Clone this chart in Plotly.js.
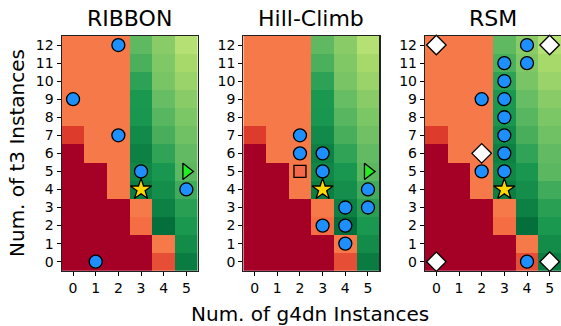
<!DOCTYPE html>
<html><head><meta charset="utf-8">
<script src="https://cdn.plot.ly/plotly-3.0.1.min.js"></script>
<style>body{margin:0;padding:0;background:#fff}#chart{width:561px;height:326px}</style>
</head><body><div id="chart"></div>
<script>
const g4dn = [0,1,2,3,4,5];
const t3 = [0,1,2,3,4,5,6,7,8,9,10,11,12];
// normalised score per cell, rows = t3 count (0..12), cols = g4dn count (0..5)
const score = [
  [0.00,0.00,0.00,0.00,0.15,0.96],
  [0.00,0.00,0.00,0.00,0.22,0.925],
  [0.00,0.00,0.00,0.20,0.985,0.90],
  [0.00,0.00,0.00,0.22,0.95,0.88],
  [0.00,0.00,0.22,0.955,0.92,0.85],
  [0.00,0.00,0.22,0.935,0.905,0.815],
  [0.00,0.22,0.22,0.95,0.87,0.805],
  [0.12,0.22,0.22,0.93,0.84,0.785],
  [0.22,0.22,0.22,0.905,0.82,0.765],
  [0.22,0.22,0.22,0.90,0.80,0.745],
  [0.22,0.22,0.22,0.875,0.77,0.72],
  [0.22,0.22,0.22,0.835,0.76,0.70],
  [0.22,0.22,0.22,0.81,0.745,0.67]
];
const panelTitles = ["RIBBON","Hill-Climb","RSM"];
// explored points per method
const ribbonX = [2,0,2,3,5,1], ribbonY = [12,9,7,5,4,0];
const hillX = [2,2,3,3,4,4,3,4,5,5], hillY = [7,6,6,5,3,2,2,1,4,3];
const hillStartX = [2], hillStartY = [5];
const rsmX = [4,3,4,3,2,3,3,3,3,2,3,4], rsmY = [12,11,11,10,9,9,8,7,6,5,5,0];
const rsmDesignX = [0,5,2,0,5], rsmDesignY = [12,12,6,0,0];
const optX = [3], optY = [4];
const triX = [5], triY = [5];

const RdYlGn = [[0,'#a50026'],[0.1,'#d73027'],[0.2,'#f46d43'],[0.3,'#fdae61'],[0.4,'#fee08b'],[0.5,'#ffffbf'],[0.6,'#d9ef8b'],[0.7,'#a6d96a'],[0.8,'#66bd63'],[0.9,'#1a9850'],[1,'#006837']];

const W = 561, H = 326;
const panelLeft = [61.7, 243.3, 425.0], panelW = 136.0;
const plotTop = 36.0, plotBottom = 270.7;
const traces = [];
const layout = {width:W,height:H,margin:{l:0,r:0,t:0,b:0},paper_bgcolor:'#fff',plot_bgcolor:'#fff',showlegend:false,annotations:[],
  font:{family:'DejaVu Sans',color:'#000'}};
const mline = {color:'#000',width:1.3};
function scat(ax, xs, ys, sym, size, fill){
  return {type:'scatter',mode:'markers',x:xs,y:ys,xaxis:'x'+ax,yaxis:'y'+ax,hoverinfo:'skip',cliponaxis:false,
    marker:{symbol:sym,size:size,color:fill,line:mline}};
}
for (let p=0;p<3;p++){
  const ax = p===0?'':String(p+1);
  traces.push({type:'heatmap',x:g4dn,y:t3,z:score,colorscale:RdYlGn,zmin:0,zmax:1,showscale:false,xaxis:'x'+ax,yaxis:'y'+ax,hoverinfo:'skip'});
  const xa = {domain:[panelLeft[p]/W, Math.min(1,(panelLeft[p]+panelW)/W)],range:[-0.5,5.5],tickvals:g4dn,ticktext:g4dn.map(String),ticks:'outside',ticklen:4,tickwidth:1,tickcolor:'#000',
    showline:true,mirror:true,linecolor:'#222',linewidth:1.2,showgrid:false,zeroline:false,tickfont:{size:14,family:'DejaVu Sans',color:'#000'},anchor:'y'+ax,fixedrange:true};
  const ya = {domain:[(H-plotBottom)/H,(H-plotTop)/H],range:[-0.5,12.5],tickvals:t3,ticktext:t3.map(String),ticks:'outside',ticklen:4,tickwidth:1,tickcolor:'#000',
    showline:true,mirror:true,linecolor:'#222',linewidth:1.2,showgrid:false,zeroline:false,tickfont:{size:14,family:'DejaVu Sans',color:'#000'},anchor:'x'+ax,fixedrange:true};
  layout['xaxis'+ax]=xa; layout['yaxis'+ax]=ya;
  layout.annotations.push({text:panelTitles[p],xref:'paper',yref:'paper',x:(panelLeft[p]+panelW/2)/W,y:(H-18)/H,xanchor:'center',yanchor:'middle',showarrow:false,font:{size:22,family:'DejaVu Sans',color:'#000'}});
}
traces.push(scat('', ribbonX, ribbonY, 'circle', 13, '#1e8fff'));
traces.push(scat('', optX, optY, 'star', 16, '#ffd700'));
traces.push(scat('', triX, triY, 'triangle-right', 14, '#22ee22'));
traces.push(scat('2', hillX, hillY, 'circle', 13, '#1e8fff'));
traces.push(scat('2', hillStartX, hillStartY, 'square', 12, '#f4694c'));
traces.push(scat('2', optX, optY, 'star', 16, '#ffd700'));
traces.push(scat('2', triX, triY, 'triangle-right', 14, '#22ee22'));
traces.push(scat('3', rsmX, rsmY, 'circle', 13, '#1e8fff'));
traces.push(scat('3', rsmDesignX, rsmDesignY, 'diamond', 15, '#ffffff'));
traces.push(scat('3', optX, optY, 'star', 16, '#ffd700'));
layout.annotations.push({text:'Num. of g4dn Instances',xref:'paper',yref:'paper',x:310/W,y:(H-314)/H,xanchor:'center',yanchor:'middle',showarrow:false,font:{size:20,family:'DejaVu Sans',color:'#000'}});
layout.annotations.push({text:'Num. of t3 Instances',xref:'paper',yref:'paper',x:17/W,y:(H-153)/H,xanchor:'center',yanchor:'middle',textangle:-90,showarrow:false,font:{size:20,family:'DejaVu Sans',color:'#000'}});
Plotly.newPlot('chart',traces,layout,{displayModeBar:false,staticPlot:true});
</script></body></html>
